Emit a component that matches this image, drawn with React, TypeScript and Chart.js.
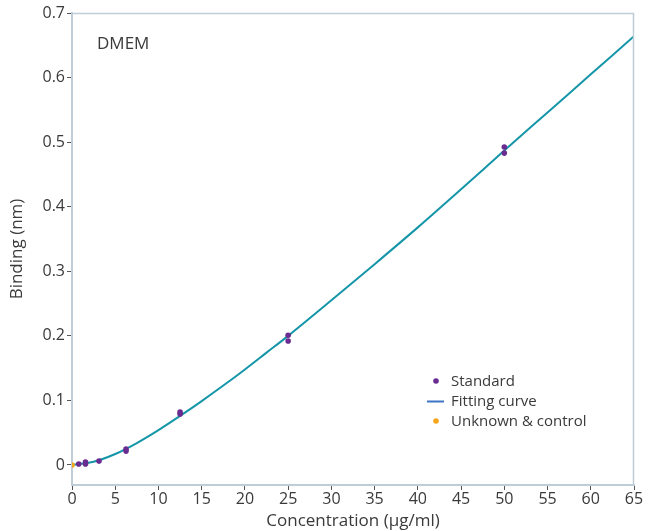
import React, { useEffect, useRef } from "react";
import { Chart, registerables } from "chart.js";

Chart.register(...registerables);

const standardX = [0.78, 1.56, 1.56, 3.125, 6.25, 6.25, 12.5, 12.5, 25, 25, 50, 50];
const standardY = [0.0015, 0.0015, 0.0045, 0.006, 0.0215, 0.0248, 0.079, 0.082, 0.192, 0.201, 0.483, 0.4925];

const unknownX = [0];
const unknownY = [0];

const curveX = [0, 2.5, 5, 7.5, 10, 12.5, 15, 17.5, 20, 22.5, 25, 30, 35, 40, 45, 50, 55, 60, 65];
const curveY = [0, 0.005, 0.017, 0.034, 0.054, 0.076, 0.099, 0.123, 0.148, 0.174, 0.2, 0.255, 0.311, 0.368, 0.427, 0.487, 0.546, 0.605, 0.664];

const xTicks = [0, 5, 10, 15, 20, 25, 30, 35, 40, 45, 50, 55, 60, 65];
const yTicks = [0, 0.1, 0.2, 0.3, 0.4, 0.5, 0.6, 0.7];

const FONT = "'Open Sans', 'DejaVu Sans', sans-serif";
const TEXT = "#3a3a3a";
const AXIS = "#bfcdd6";
const PURPLE = "#6a2c91";
const TEAL = "#1596a8";
const ORANGE = "#f5a71c";
const LEGEND_BLUE = "#3d74c4";

const overlayPlugin = {
  id: "overlay",
  afterDraw(chart: any) {
    const { ctx, chartArea } = chart;
    ctx.save();
    ctx.strokeStyle = AXIS;
    ctx.lineWidth = 1.5;
    ctx.beginPath();
    ctx.moveTo(chartArea.left, chartArea.top + 0.5);
    ctx.lineTo(chartArea.right - 0.5, chartArea.top + 0.5);
    ctx.lineTo(chartArea.right - 0.5, chartArea.bottom);
    ctx.stroke();
    ctx.fillStyle = TEXT;
    ctx.font = `17px ${FONT}`;
    ctx.textBaseline = "middle";
    ctx.textAlign = "left";
    ctx.fillText("DMEM", 97, 44);
    ctx.font = `15px ${FONT}`;
    const lx = 436;
    const tx = 451;
    const rows = [381, 401, 421];
    ctx.fillStyle = PURPLE;
    ctx.beginPath();
    ctx.arc(lx, rows[0], 2.8, 0, Math.PI * 2);
    ctx.fill();
    ctx.strokeStyle = LEGEND_BLUE;
    ctx.lineWidth = 2;
    ctx.beginPath();
    ctx.moveTo(427, rows[1] + 0.5);
    ctx.lineTo(444, rows[1] + 0.5);
    ctx.stroke();
    ctx.fillStyle = ORANGE;
    ctx.beginPath();
    ctx.arc(lx, rows[2], 2.8, 0, Math.PI * 2);
    ctx.fill();
    ctx.fillStyle = TEXT;
    ctx.fillText("Standard", tx, rows[0] + 1);
    ctx.fillText("Fitting curve", tx, rows[1] + 1);
    ctx.fillText("Unknown & control", tx, rows[2] + 1);
    ctx.restore();
  },
};

export default function App() {
  const ref = useRef<HTMLCanvasElement>(null);

  useEffect(() => {
    document.body.style.margin = "0";
    const canvas = ref.current;
    if (!canvas) return;
    const chart = new Chart(canvas, {
      type: "scatter",
      data: {
        datasets: [
          {
            type: "line",
            label: "Fitting curve",
            data: curveX.map((x, i) => ({ x, y: curveY[i] })),
            borderColor: TEAL,
            borderWidth: 2,
            pointRadius: 0,
            cubicInterpolationMode: "monotone",
            fill: false,
            order: 2,
          },
          {
            label: "Standard",
            data: standardX.map((x, i) => ({ x, y: standardY[i] })),
            backgroundColor: PURPLE,
            borderColor: PURPLE,
            pointRadius: 2.8,
            borderWidth: 0,
            order: 1,
          },
          {
            label: "Unknown & control",
            data: unknownX.map((x, i) => ({ x, y: unknownY[i] })),
            backgroundColor: ORANGE,
            borderColor: ORANGE,
            pointRadius: 2.8,
            borderWidth: 0,
            order: 0,
          },
        ],
      },
      options: {
        animation: false,
        responsive: false,
        maintainAspectRatio: false,
        layout: { padding: { top: 13, right: 15, left: 0, bottom: 0 } },
        plugins: {
          legend: { display: false },
          tooltip: { enabled: false },
        },
        scales: {
          x: {
            type: "linear",
            min: 0,
            max: 65,
            afterBuildTicks: (s: any) => {
              s.ticks = xTicks.map((v) => ({ value: v }));
            },
            afterFit: (s: any) => {
              s.height = 46;
            },
            grid: { drawOnChartArea: false, drawTicks: true, tickLength: 5, color: "#555", tickWidth: 1 },
            border: { display: true, color: AXIS, width: 2 },
            ticks: { color: TEXT, font: { family: FONT, size: 16 }, padding: 0, maxRotation: 0 },
            title: {
              display: true,
              text: "Concentration (µg/ml)",
              color: TEXT,
              font: { family: FONT, size: 17 },
              padding: { top: 0, bottom: 0 },
            },
          },
          y: {
            type: "linear",
            min: -0.031,
            max: 0.7,
            afterBuildTicks: (s: any) => {
              s.ticks = yTicks.map((v) => ({ value: v }));
            },
            afterFit: (s: any) => {
              s.width = 72;
            },
            grid: { drawOnChartArea: false, drawTicks: true, tickLength: 5, color: "#555", tickWidth: 1 },
            border: { display: true, color: AXIS, width: 2 },
            ticks: {
              color: TEXT,
              font: { family: FONT, size: 16 },
              padding: 2,
              callback: (v: any) => String(Math.round(Number(v) * 10) / 10),
            },
            title: {
              display: true,
              text: "Binding (nm)",
              color: TEXT,
              font: { family: FONT, size: 17 },
              padding: { top: 7, bottom: 6 },
            },
          },
        },
      },
      plugins: [overlayPlugin],
    } as any);
    return () => chart.destroy();
  }, []);

  return (
    <div style={{ position: "relative", width: 649, height: 531 }}>
      <canvas ref={ref} width={649} height={531} style={{ display: "block", width: 649, height: 531 }} />
    </div>
  );
}
